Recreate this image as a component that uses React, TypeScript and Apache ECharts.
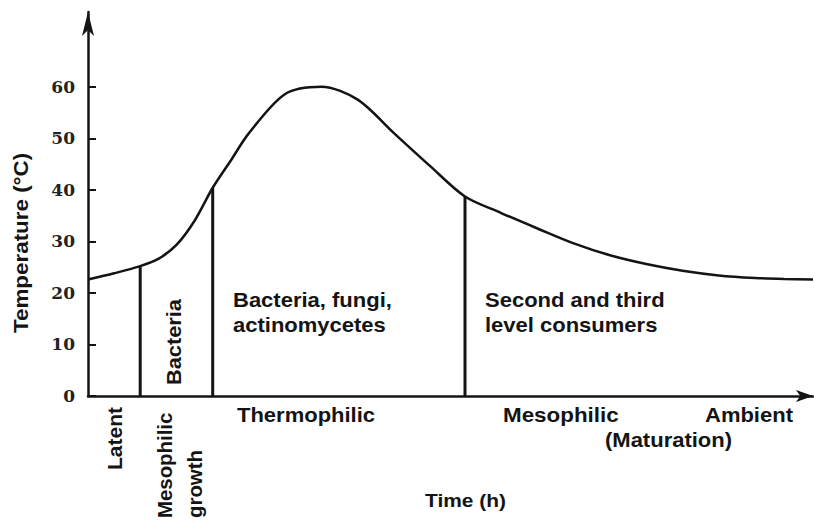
import React, { useEffect, useRef } from "react";
import * as echarts from "echarts";

// Time in arbitrary units (0–100), temperature in °C
const curveTime = [0, 3.6, 7.2, 9.7, 12.2, 14.7, 17.2, 19.7, 22.2, 27.2, 32.2, 37.2, 42.2, 47.2, 52, 57, 62, 67, 72, 77, 82, 87, 92, 96, 100];
const curveTemp = [22.6, 23.8, 25.2, 26.6, 29.3, 34, 40.4, 45.7, 51, 58.6, 60, 57.5, 51, 44.6, 38.7, 35.5, 32.5, 29.6, 27.3, 25.6, 24.3, 23.4, 22.9, 22.7, 22.6];
// phase boundaries (time) and the temperature where they meet the curve
const boundaryTime = [7.2, 17.2, 52];
const boundaryTemp = [25.2, 40.4, 38.7];
const yTicks = [0, 10, 20, 30, 40, 50, 60];

const FONT = "'Liberation Sans', Arial, sans-serif";
const INK = "#141414";

export default function App() {
  const ref = useRef<HTMLDivElement>(null);
  useEffect(() => {
    if (!ref.current) return;
    const chart = echarts.init(ref.current, null, { renderer: "svg" });
    const curve = curveTime.map((t, i) => [t, curveTemp[i]]);
    const boundarySeries = boundaryTime.map((t, i) => ({
      type: "line",
      data: [[t, 0], [t, boundaryTemp[i]]],
      symbol: "none",
      lineStyle: { color: INK, width: 3 },
      silent: true,
      z: 3,
    }));
    const txt = (text: string, x: number, y: number, extra: any = {}) => ({
      type: "text",
      x,
      y,
      scaleX: extra.sx || 1.1,
      ...extra.el,
      style: {
        text,
        fill: INK,
        font: `bold ${extra.size || 20}px ${FONT}`,
        align: "left",
        verticalAlign: "middle",
        lineHeight: extra.lh || 25,
        ...extra.style,
      },
    });
    const up = { rotation: Math.PI / 2 };
    chart.setOption({
      animation: false,
      backgroundColor: "#ffffff",
      grid: { left: 88, right: 1, top: 12, bottom: 129, containLabel: false },
      xAxis: {
        type: "value",
        min: 0,
        max: 100,
        axisLine: {
          show: true,
          onZero: true,
          symbol: ["none", "arrow"],
          symbolSize: [9, 17],
          lineStyle: { color: INK, width: 2.5 },
        },
        axisTick: { show: false },
        axisLabel: { show: false },
        splitLine: { show: false },
      },
      yAxis: {
        type: "value",
        min: 0,
        max: 74.5,
        axisLine: {
          show: true,
          symbol: ["none", "arrow"],
          symbolSize: [9, 24],
          lineStyle: { color: INK, width: 2.5 },
        },
        axisTick: {
          show: true,
          inside: true,
          length: 8,
          customValues: yTicks,
          lineStyle: { color: INK, width: 2 },
        },
        axisLabel: {
          show: true,
          customValues: yTicks,
          margin: 13,
          color: "#222",
          fontFamily: "'DejaVu Serif', 'Liberation Serif', serif",
          fontWeight: "bold",
          fontSize: 17,
        },
        splitLine: { show: false },
      },
      series: [
        {
          type: "line",
          data: curve,
          smooth: 0.3,
          symbol: "none",
          lineStyle: { color: INK, width: 2.5 },
          z: 4,
        },
        ...boundarySeries,
      ],
      graphic: [
        txt("Temperature (°C)", 21, 333, { size: 20, sx: 1.12, el: up }),
        txt("Bacteria", 174, 385, { size: 20, sx: 1.09, el: up }),
        txt("Latent", 115, 470, { size: 20, sx: 1.05, el: up }),
        txt("Mesophilic\ngrowth", 150, 518, { size: 20, sx: 1.02, lh: 30, el: up, style: { verticalAlign: "top" } }),
        txt("Bacteria, fungi,\nactinomycetes", 233, 312, { size: 20 }),
        txt("Second and third\nlevel consumers", 485, 312, { size: 20 }),
        txt("Thermophilic", 237, 415, { size: 20 }),
        txt("Mesophilic", 503, 415, { size: 20, sx: 1.12 }),
        txt("Ambient", 705, 415, { size: 20 }),
        txt("(Maturation)", 605, 440, { size: 20 }),
        txt("Time (h)", 425, 500, { size: 19 }),
      ],
    });
    return () => chart.dispose();
  }, []);
  return (
    <div
      ref={ref}
      style={{ position: "absolute", left: 0, top: 0, width: 814, height: 525, background: "#fff" }}
    />
  );
}
